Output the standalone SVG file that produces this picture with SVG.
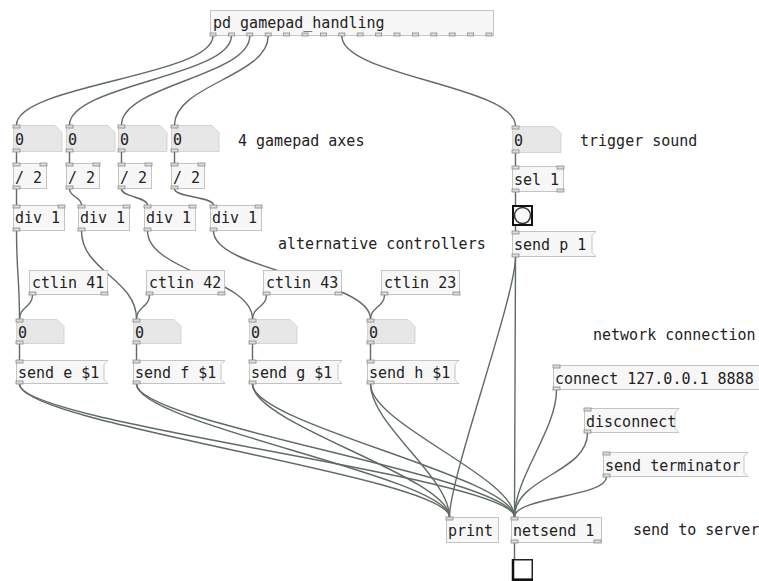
<svg xmlns="http://www.w3.org/2000/svg" xmlns:xlink="http://www.w3.org/1999/xlink" width="759" height="581" viewBox="0 0 759 581">
  <style>
    .box { fill: #f7f7f7; stroke: #c4c4c4; stroke-width: 1; }
    .atom { fill: #e7e7e7; stroke: #d4d4d4; stroke-width: 1; }
    .io { fill: #dcdcdc; stroke: #8a8a8a; stroke-width: 0.8; }
    .t { font-family: "DejaVu Sans Mono", "Liberation Mono", monospace; font-size: 15px; fill: #222; }
    .cord { fill: none; stroke: #5f6b62; stroke-width: 1.4; }
    .gui { fill: #fbfbfb; stroke: #111; stroke-width: 2; }
  </style>
  <defs>
    <rect id="io" class="io" width="7" height="3"/>
    <rect id="io6" class="io" width="6" height="3"/>
  </defs>
  <rect width="759" height="581" fill="#fff"/>

  <!-- patch cords -->
  <g id="connections">
    <!-- subpatch outlets to axis number boxes -->
    <path class="cord" d="M213,36 C213,76 16.5,85 16.5,125"/>
    <path class="cord" d="M231.4,36 C231.4,76 69.5,85 69.5,125"/>
    <path class="cord" d="M249.8,36 C249.8,76 121.5,85 121.5,125"/>
    <path class="cord" d="M268.2,36 C268.2,76 174.5,85 174.5,125"/>
    <path class="cord" d="M341.8,36 C341.8,76 515.5,86 515.5,126"/>
    <!-- number boxes to / 2 -->
    <path class="cord" d="M16.5,151 V163 M69.5,151 V163 M121.5,151 V163 M174.5,151 V163"/>
    <!-- / 2 to div 1 -->
    <path class="cord" d="M16.5,189 V205"/>
    <path class="cord" d="M69.5,189 C69.5,197 81.5,197 81.5,205"/>
    <path class="cord" d="M121.5,189 C121.5,197 147.5,197 147.5,205"/>
    <path class="cord" d="M174.5,189 C174.5,197 213.5,197 213.5,205"/>
    <!-- div 1 to second number row -->
    <path class="cord" d="M16.5,231 C16.5,271 19.5,279 19.5,319"/>
    <path class="cord" d="M81.5,231 C81.5,271 136.5,279 136.5,319"/>
    <path class="cord" d="M147.5,231 C147.5,271 252.5,279 252.5,319"/>
    <path class="cord" d="M213.5,231 C213.5,271 370.5,279 370.5,319"/>
    <!-- ctlin to second number row -->
    <path class="cord" d="M32.5,295 C32.5,307 19.5,307 19.5,319"/>
    <path class="cord" d="M149.5,295 C149.5,307 136.5,307 136.5,319"/>
    <path class="cord" d="M266.5,295 C266.5,307 252.5,307 252.5,319"/>
    <path class="cord" d="M384.5,295 C384.5,307 370.5,307 370.5,319"/>
    <!-- number boxes to send messages -->
    <path class="cord" d="M19.5,344 V360 M136.5,344 V360 M252.5,344 V360 M370.5,344 V360"/>
    <!-- send messages to print and netsend -->
    <path class="cord" d="M19.5,384 C19.5,424 449.5,477 449.5,517"/>
    <path class="cord" d="M19.5,384 C19.5,424 514.5,477 514.5,517"/>
    <path class="cord" d="M136.5,384 C136.5,424 449.5,477 449.5,517"/>
    <path class="cord" d="M136.5,384 C136.5,424 514.5,477 514.5,517"/>
    <path class="cord" d="M252.5,384 C252.5,424 449.5,477 449.5,517"/>
    <path class="cord" d="M252.5,384 C252.5,424 514.5,477 514.5,517"/>
    <path class="cord" d="M370.5,384 C370.5,424 449.5,477 449.5,517"/>
    <path class="cord" d="M370.5,384 C370.5,424 514.5,477 514.5,517"/>
    <!-- trigger chain -->
    <path class="cord" d="M515.5,152 V166 M515.5,192 V205 M515.5,225 V231"/>
    <path class="cord" d="M515.5,257 C515.5,297 449.5,477 449.5,517"/>
    <path class="cord" d="M515.5,257 C515.5,297 514.5,477 514.5,517"/>
    <!-- network messages to netsend -->
    <path class="cord" d="M556.5,390 C556.5,430 514.5,477 514.5,517"/>
    <path class="cord" d="M587.5,433 C587.5,473 514.5,477 514.5,517"/>
    <path class="cord" d="M606.5,477 C606.5,497 514.5,497 514.5,517"/>
    <!-- netsend to toggle -->
    <path class="cord" d="M514.5,543 V559"/>
  </g>

  <!-- subpatch -->
  <g id="pd-gamepad">
    <rect class="box" x="210.5" y="10.5" width="283" height="25"/>
    <text class="t" x="213" y="28">pd gamepad_handling</text>
    <use href="#io6" x="210" y="33"/><use href="#io6" x="228.4" y="33"/><use href="#io6" x="246.8" y="33"/><use href="#io6" x="265.2" y="33"/>
    <use href="#io6" x="283.6" y="33"/><use href="#io6" x="302" y="33"/><use href="#io6" x="320.4" y="33"/><use href="#io6" x="338.8" y="33"/>
    <use href="#io6" x="357.2" y="33"/><use href="#io6" x="375.6" y="33"/><use href="#io6" x="394" y="33"/><use href="#io6" x="412.4" y="33"/>
    <use href="#io6" x="430.8" y="33"/><use href="#io6" x="449.2" y="33"/><use href="#io6" x="467.6" y="33"/><use href="#io6" x="486" y="33"/>
  </g>

  <!-- axis number boxes -->
  <g id="axis1">
    <path class="atom" d="M13.5,125.5 H55 L62,132.5 V151.5 H13.5 Z"/>
    <text class="t" x="15" y="145">0</text>
    <use href="#io" x="13" y="125"/><use href="#io" x="13" y="149"/>
  </g>
  <g id="axis2">
    <path class="atom" d="M66.5,125.5 H108 L115,132.5 V151.5 H66.5 Z"/>
    <text class="t" x="68" y="145">0</text>
    <use href="#io" x="66" y="125"/><use href="#io" x="66" y="149"/>
  </g>
  <g id="axis3">
    <path class="atom" d="M118.5,125.5 H160 L167,132.5 V151.5 H118.5 Z"/>
    <text class="t" x="120" y="145">0</text>
    <use href="#io" x="118" y="125"/><use href="#io" x="118" y="149"/>
  </g>
  <g id="axis4">
    <path class="atom" d="M171.5,125.5 H212 L219,132.5 V151.5 H171.5 Z"/>
    <text class="t" x="173" y="145">0</text>
    <use href="#io" x="171" y="125"/><use href="#io" x="171" y="149"/>
  </g>
  <text class="t" x="238" y="146">4 gamepad axes</text>

  <!-- / 2 -->
  <g id="half1">
    <rect class="box" x="13.5" y="163.5" width="33" height="25"/>
    <text class="t" x="15" y="183">/ 2</text>
    <use href="#io" x="13" y="163"/><use href="#io" x="40" y="163"/><use href="#io" x="13" y="186"/>
  </g>
  <g id="half2">
    <rect class="box" x="66.5" y="163.5" width="33" height="25"/>
    <text class="t" x="68" y="183">/ 2</text>
    <use href="#io" x="66" y="163"/><use href="#io" x="93" y="163"/><use href="#io" x="66" y="186"/>
  </g>
  <g id="half3">
    <rect class="box" x="118.5" y="163.5" width="33" height="25"/>
    <text class="t" x="120" y="183">/ 2</text>
    <use href="#io" x="118" y="163"/><use href="#io" x="145" y="163"/><use href="#io" x="118" y="186"/>
  </g>
  <g id="half4">
    <rect class="box" x="171.5" y="163.5" width="33" height="25"/>
    <text class="t" x="173" y="183">/ 2</text>
    <use href="#io" x="171" y="163"/><use href="#io" x="198" y="163"/><use href="#io" x="171" y="186"/>
  </g>

  <!-- div 1 -->
  <g id="div1">
    <rect class="box" x="13.5" y="205.5" width="51" height="25"/>
    <text class="t" x="15" y="223">div 1</text>
    <use href="#io" x="13" y="205"/><use href="#io" x="58" y="205"/><use href="#io" x="13" y="228"/>
  </g>
  <g id="div2">
    <rect class="box" x="78.5" y="205.5" width="51" height="25"/>
    <text class="t" x="80" y="223">div 1</text>
    <use href="#io" x="78" y="205"/><use href="#io" x="123" y="205"/><use href="#io" x="78" y="228"/>
  </g>
  <g id="div3">
    <rect class="box" x="144.5" y="205.5" width="51" height="25"/>
    <text class="t" x="146" y="223">div 1</text>
    <use href="#io" x="144" y="205"/><use href="#io" x="189" y="205"/><use href="#io" x="144" y="228"/>
  </g>
  <g id="div4">
    <rect class="box" x="210.5" y="205.5" width="51" height="25"/>
    <text class="t" x="212" y="223">div 1</text>
    <use href="#io" x="210" y="205"/><use href="#io" x="255" y="205"/><use href="#io" x="210" y="228"/>
  </g>

  <text class="t" x="278" y="249">alternative controllers</text>

  <!-- ctlin -->
  <g id="ctlin41">
    <rect class="box" x="29.5" y="270.5" width="78" height="24"/>
    <text class="t" x="32" y="288">ctlin 41</text>
    <use href="#io" x="29" y="292"/><use href="#io" x="101" y="292"/>
  </g>
  <g id="ctlin42">
    <rect class="box" x="146.5" y="270.5" width="78" height="24"/>
    <text class="t" x="149" y="288">ctlin 42</text>
    <use href="#io" x="146" y="292"/><use href="#io" x="218" y="292"/>
  </g>
  <g id="ctlin43">
    <rect class="box" x="263.5" y="270.5" width="78" height="24"/>
    <text class="t" x="266" y="288">ctlin 43</text>
    <use href="#io" x="263" y="292"/><use href="#io" x="335" y="292"/>
  </g>
  <g id="ctlin23">
    <rect class="box" x="381.5" y="270.5" width="78" height="24"/>
    <text class="t" x="384" y="288">ctlin 23</text>
    <use href="#io" x="381" y="292"/><use href="#io" x="453" y="292"/>
  </g>

  <!-- second number row -->
  <g id="num-e">
    <path class="atom" d="M16.5,319.5 H57 L64,326.5 V343.5 H16.5 Z"/>
    <text class="t" x="18" y="338">0</text>
    <use href="#io" x="16" y="319"/><use href="#io" x="16" y="341"/>
  </g>
  <g id="num-f">
    <path class="atom" d="M133.5,319.5 H174 L181,326.5 V343.5 H133.5 Z"/>
    <text class="t" x="135" y="338">0</text>
    <use href="#io" x="133" y="319"/><use href="#io" x="133" y="341"/>
  </g>
  <g id="num-g">
    <path class="atom" d="M249.5,319.5 H290 L297,326.5 V343.5 H249.5 Z"/>
    <text class="t" x="251" y="338">0</text>
    <use href="#io" x="249" y="319"/><use href="#io" x="249" y="341"/>
  </g>
  <g id="num-h">
    <path class="atom" d="M367.5,319.5 H408 L415,326.5 V343.5 H367.5 Z"/>
    <text class="t" x="369" y="338">0</text>
    <use href="#io" x="367" y="319"/><use href="#io" x="367" y="341"/>
  </g>

  <!-- send messages -->
  <g id="send-e">
    <path class="box" d="M16.5,360.5 H108 L104,364.5 V379.5 L108,383.5 H16.5 Z"/>
    <text class="t" x="18" y="378">send e $1</text>
    <use href="#io" x="16" y="360"/><use href="#io" x="16" y="381"/>
  </g>
  <g id="send-f">
    <path class="box" d="M133.5,360.5 H225 L221,364.5 V379.5 L225,383.5 H133.5 Z"/>
    <text class="t" x="135" y="378">send f $1</text>
    <use href="#io" x="133" y="360"/><use href="#io" x="133" y="381"/>
  </g>
  <g id="send-g">
    <path class="box" d="M249.5,360.5 H342 L338,364.5 V379.5 L342,383.5 H249.5 Z"/>
    <text class="t" x="251" y="378">send g $1</text>
    <use href="#io" x="249" y="360"/><use href="#io" x="249" y="381"/>
  </g>
  <g id="send-h">
    <path class="box" d="M367.5,360.5 H459 L455,364.5 V379.5 L459,383.5 H367.5 Z"/>
    <text class="t" x="369" y="378">send h $1</text>
    <use href="#io" x="367" y="360"/><use href="#io" x="367" y="381"/>
  </g>

  <!-- trigger chain -->
  <g id="trigger">
    <path class="atom" d="M512.5,126.5 H554 L561,133.5 V152.5 H512.5 Z"/>
    <text class="t" x="514" y="146">0</text>
    <use href="#io" x="512" y="126"/><use href="#io" x="512" y="150"/>
  </g>
  <text class="t" x="580" y="146">trigger sound</text>
  <g id="sel">
    <rect class="box" x="512.5" y="166.5" width="51" height="25"/>
    <text class="t" x="514" y="185">sel 1</text>
    <use href="#io" x="512" y="166"/><use href="#io" x="557" y="166"/>
    <use href="#io" x="512" y="189"/><use href="#io" x="557" y="189"/>
  </g>
  <g id="bang">
    <rect class="gui" x="513" y="206" width="19" height="19"/>
    <circle cx="522.5" cy="215.5" r="8" fill="#fafafa" stroke="#333" stroke-width="1.5"/>
  </g>
  <g id="send-p">
    <path class="box" d="M512.5,231.5 H596 L592,235.5 V252.5 L596,256.5 H512.5 Z"/>
    <text class="t" x="514" y="250">send p 1</text>
    <use href="#io" x="512" y="231"/><use href="#io" x="512" y="254"/>
  </g>

  <!-- network section -->
  <text class="t" x="593" y="340">network connection</text>
  <g id="connect">
    <path class="box" d="M553.5,365.5 H766 L762,369.5 V385.5 L766,389.5 H553.5 Z"/>
    <text class="t" x="555" y="384">connect 127.0.0.1 8888</text>
    <use href="#io" x="553" y="365"/><use href="#io" x="553" y="387"/>
  </g>
  <g id="disconnect">
    <path class="box" d="M584.5,408.5 H679 L675,412.5 V428.5 L679,432.5 H584.5 Z"/>
    <text class="t" x="586" y="427">disconnect</text>
    <use href="#io" x="584" y="408"/><use href="#io" x="584" y="430"/>
  </g>
  <g id="terminator">
    <path class="box" d="M603.5,452.5 H748 L744,456.5 V472.5 L748,476.5 H603.5 Z"/>
    <text class="t" x="605" y="471">send terminator</text>
    <use href="#io" x="603" y="452"/><use href="#io" x="603" y="474"/>
  </g>

  <g id="print">
    <rect class="box" x="446.5" y="517.5" width="52" height="25"/>
    <text class="t" x="448" y="536">print</text>
    <use href="#io" x="446" y="517"/>
  </g>
  <g id="netsend">
    <rect class="box" x="511.5" y="517.5" width="90" height="25"/>
    <text class="t" x="513" y="536">netsend 1</text>
    <use href="#io" x="511" y="517"/><use href="#io" x="511" y="540"/><use href="#io" x="594" y="540"/>
  </g>
  <text class="t" x="633" y="535">send to server</text>
  <g id="toggle">
    <rect x="512.75" y="559.75" width="19.5" height="19.5" fill="#fff" stroke="#222" stroke-width="1.5"/>
    <path d="M513,559 V580 H533" fill="none" stroke="#111" stroke-width="2.5"/>
  </g>
</svg>
